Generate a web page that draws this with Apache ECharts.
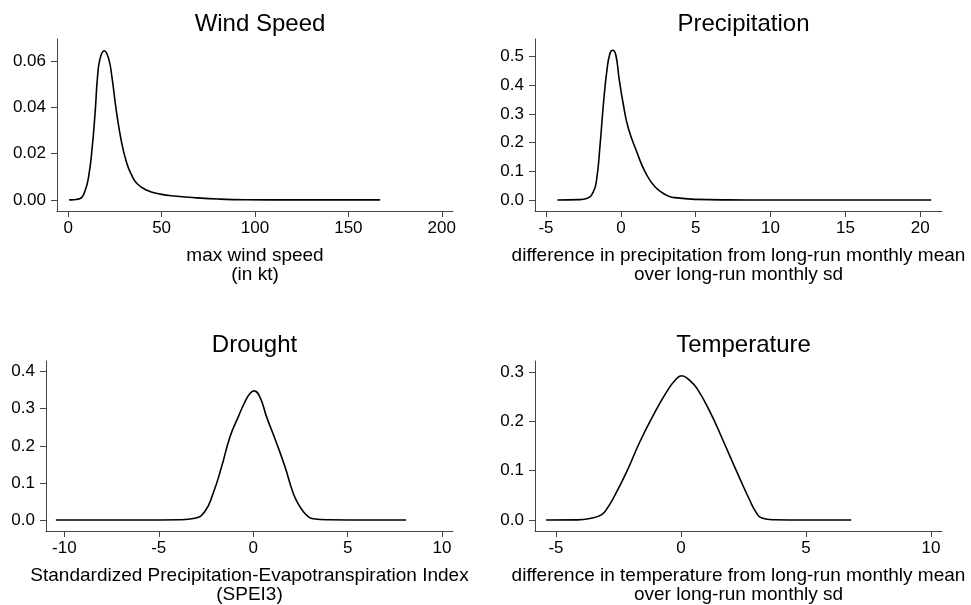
<!DOCTYPE html>
<html>
<head>
<meta charset="utf-8">
<script src="https://cdn.jsdelivr.net/npm/echarts@6/dist/echarts.min.js"></script>
<style>
  html, body { margin: 0; padding: 0; background: #fff; }
  #chart { width: 971px; height: 605px; }
</style>
</head>
<body>
<div id="chart"></div>
<script>
  // density estimates
  const windX = [0.5, 3, 6.4, 9.1, 10.9, 12.7, 14.5, 15.7, 17.1, 19.3, 21.6, 23.4, 25.7, 28.7, 31.4, 33.6, 36.8, 42.1, 49.3, 58.2, 68.9, 80, 95, 120, 167]
  const windY = [0, 0.0001, 0.0006, 0.0042, 0.010, 0.0215, 0.0389, 0.0533, 0.0613, 0.0646, 0.0613, 0.0533, 0.0389, 0.0244, 0.0158, 0.0114, 0.0071, 0.0042, 0.0025, 0.0016, 0.0009, 0.0004, 0.0001, 0, 0]

  const precipX = [-4.24, -2.8, -2.28, -1.84, -1.61, -1.39, -1.17, -0.94, -0.72, -0.54, -0.34, -0.12, 0.17, 0.5, 1.06, 1.62, 2.29, 3.07, 3.62, 5, 7, 10, 20.73]
  const precipY = [0, 0.001, 0.005, 0.028, 0.075, 0.191, 0.331, 0.448, 0.512, 0.522, 0.506, 0.424, 0.331, 0.25, 0.168, 0.098, 0.045, 0.016, 0.008, 0.002, 0.0003, 0, 0]

  const droughtX = [-10.45, -6, -3.88, -3.08, -2.56, -2.12, -1.67, -1.23, -0.79, -0.44, -0.17, 0.04, 0.35, 0.71, 1.24, 1.68, 2.12, 2.4, 2.65, 2.9, 3.17, 4.06, 6, 8.1]
  const droughtY = [0, 0, 0.0008, 0.005, 0.023, 0.072, 0.144, 0.224, 0.278, 0.318, 0.341, 0.348, 0.332, 0.278, 0.207, 0.144, 0.072, 0.042, 0.023, 0.010, 0.0035, 0.0008, 0, 0]

  const tempX = [-5.4, -4.2, -3.64, -3.17, -2.95, -2.71, -2.17, -1.64, -1.10, -0.57, -0.25, 0.03, 0.32, 0.63, 1.16, 1.70, 2.23, 2.77, 3.0, 3.23, 3.7, 5, 6.81]
  const tempY = [0, 0.0003, 0.003, 0.011, 0.024, 0.044, 0.098, 0.159, 0.213, 0.260, 0.282, 0.292, 0.284, 0.267, 0.219, 0.159, 0.098, 0.038, 0.016, 0.004, 0.0005, 0, 0]

  // tick labels
  const windXTicks = [0, 50, 100, 150, 200]
  const windYTicks = [0, 0.02, 0.04, 0.06]
  const precipXTicks = [-5, 0, 5, 10, 15, 20]
  const precipYTicks = [0, 0.1, 0.2, 0.3, 0.4, 0.5]
  const droughtXTicks = [-10, -5, 0, 5, 10]
  const droughtYTicks = [0, 0.1, 0.2, 0.3, 0.4]
  const tempXTicks = [-5, 0, 5, 10]
  const tempYTicks = [0, 0.1, 0.2, 0.3]

  const titles = ['Wind Speed', 'Precipitation', 'Drought', 'Temperature']
  const xNames = [
    'max wind speed\n(in kt)',
    'difference in precipitation from long-run monthly mean\nover long-run monthly sd',
    'Standardized Precipitation-Evapotranspiration Index\n(SPEI3)',
    'difference in temperature from long-run monthly mean\nover long-run monthly sd'
  ]

  const font = 'Liberation Sans, Arial, sans-serif'
  const axisColor = '#444'

  let panels = [
    { x: windX, y: windY, xt: windXTicks, yt: windYTicks, xr: [-6, 206], yr: [-0.0048, 0.0697], dec: 2,
      grid: { left: 57, top: 39, width: 396, height: 172 }, titleTop: 7 },
    { x: precipX, y: precipY, xt: precipXTicks, yt: precipYTicks, xr: [-5.735, 21.45], yr: [-0.0385, 0.561], dec: 1,
      grid: { left: 535, top: 39, width: 407, height: 172 }, titleTop: 7 },
    { x: droughtX, y: droughtY, xt: droughtXTicks, yt: droughtYTicks, xr: [-10.97, 10.58], yr: [-0.0295, 0.4285], dec: 1,
      grid: { left: 46, top: 361, width: 407, height: 170 }, titleTop: 328 },
    { x: tempX, y: tempY, xt: tempXTicks, yt: tempYTicks, xr: [-5.84, 10.44], yr: [-0.0222, 0.322], dec: 1,
      grid: { left: 535, top: 361, width: 407, height: 170 }, titleTop: 328 }
  ]

  let chart = echarts.init(document.getElementById('chart'))

  let option = {
    backgroundColor: '#fff',
    animation: false,
    title: panels.map((p, i) => ({
      text: titles[i],
      left: p.grid.left + p.grid.width / 2,
      top: p.titleTop,
      textAlign: 'center',
      textStyle: { fontFamily: font, fontSize: 24, fontWeight: 'normal', color: '#000' }
    })),
    grid: panels.map(p => p.grid),
    xAxis: panels.map((p, i) => ({
      type: 'value',
      gridIndex: i,
      min: p.xr[0],
      max: p.xr[1],
      name: xNames[i],
      nameLocation: 'middle',
      nameGap: 35,
      nameTextStyle: { fontFamily: font, fontSize: 19, color: '#000', lineHeight: 19 },
      axisLine: { onZero: false, lineStyle: { color: axisColor, width: 1 } },
      axisTick: { show: true, length: 6, customValues: p.xt, lineStyle: { color: axisColor } },
      axisLabel: { customValues: p.xt, margin: 9, fontFamily: font, fontSize: 17, color: '#000' },
      splitLine: { show: false }
    })),
    yAxis: panels.map((p, i) => ({
      type: 'value',
      gridIndex: i,
      min: p.yr[0],
      max: p.yr[1],
      axisLine: { show: true, onZero: false, lineStyle: { color: axisColor, width: 1 } },
      axisTick: { show: true, length: 6, customValues: p.yt, lineStyle: { color: axisColor } },
      axisLabel: {
        customValues: p.yt, margin: 11, fontFamily: font, fontSize: 17, color: '#000',
        formatter: v => v.toFixed(p.dec)
      },
      splitLine: { show: false }
    })),
    series: panels.map((p, i) => ({
      type: 'line',
      xAxisIndex: i,
      yAxisIndex: i,
      data: p.x.map((v, k) => [v, p.y[k]]),
      showSymbol: false,
      smooth: 0.5,
      lineStyle: { color: '#000', width: 1.6 }
    }))
  }

  chart.setOption(option)
</script>
</body>
</html>
